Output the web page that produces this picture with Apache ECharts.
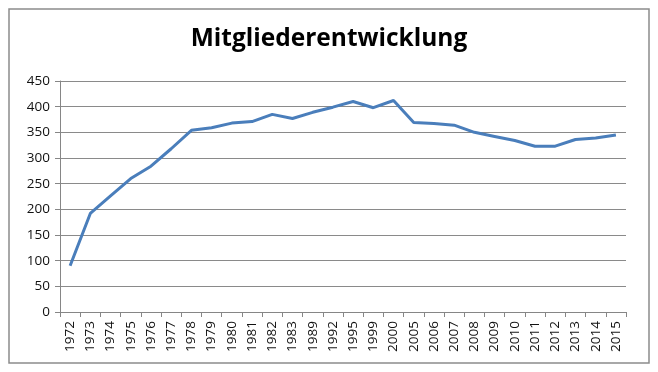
<!DOCTYPE html>
<html>
<head>
<meta charset="utf-8">
<script src="https://cdn.jsdelivr.net/npm/echarts@6/dist/echarts.min.js"></script>
<style>
html,body{margin:0;padding:0;background:#fff;}
#c{width:658px;height:372px;}
</style>
</head>
<body>
<div id="c"></div>
<script>
const titleText = 'Mitgliederentwicklung';
const years = ['1972','1973','1974','1975','1976','1977','1978','1979','1980','1981','1982','1983','1989','1992','1995','1999','2000','2005','2006','2007','2008','2009','2010','2011','2012','2013','2014','2015'];
const members = [90,192,226,260,284,318,354,359,368,371,385,377,389,399,410,398,412,369,367,364,350,342,334,323,323,336,339,345];

const chart = echarts.init(document.getElementById('c'), null, {renderer:'canvas'});
chart.setOption({
  animation:false,
  backgroundColor:'#fff',
  title:{text:titleText,left:'center',top:22,textStyle:{fontFamily:'Open Sans',fontWeight:'bold',fontSize:24.5,color:'#000'}},
  graphic:[{type:'rect',shape:{x:9,y:9,width:640,height:354},style:{fill:'none',stroke:'#8c8c8c',lineWidth:1.5},silent:true}],
  grid:{left:60,right:32,top:81,bottom:60,containLabel:false},
  xAxis:{type:'category',data:years,boundaryGap:true,
    axisLine:{lineStyle:{color:'#868686',width:1}},
    axisTick:{show:true,alignWithLabel:false,interval:0,length:5,lineStyle:{color:'#868686'}},
    axisLabel:{rotate:90,interval:0,fontFamily:'Open Sans',fontSize:13.5,color:'#111',margin:9}},
  yAxis:{type:'value',min:0,max:450,interval:50,
    axisLine:{show:true,lineStyle:{color:'#868686',width:1}},
    axisTick:{show:true,length:5,lineStyle:{color:'#868686'}},
    splitLine:{lineStyle:{color:'#8a8a8a',width:1}},
    axisLabel:{fontFamily:'Open Sans',fontSize:13.5,color:'#111',margin:10}},
  series:[{type:'line',data:members,symbol:'none',smooth:false,lineStyle:{color:'#4A7EBB',width:3}}]
});
</script>
</body>
</html>
